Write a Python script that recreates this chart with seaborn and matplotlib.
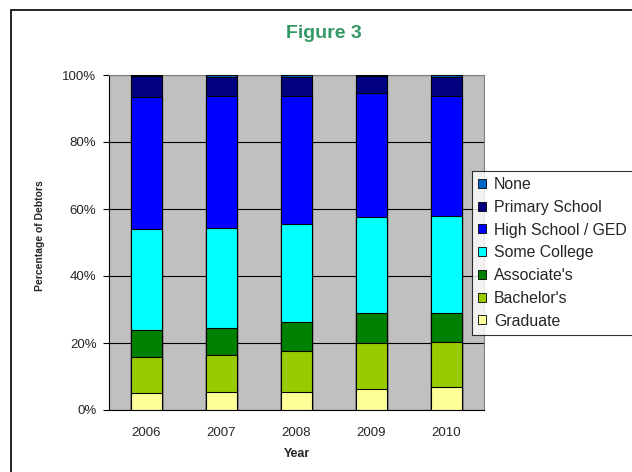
import matplotlib
matplotlib.use("Agg")
import matplotlib.pyplot as plt
import seaborn as sns
import numpy as np
from matplotlib.patches import Patch, Rectangle

# Data (percent of debtors by education level)
years = ["2006", "2007", "2008", "2009", "2010"]
graduate = [5.0, 5.3, 5.3, 6.2, 6.8]
bachelors = [10.9, 11.2, 12.4, 13.7, 13.4]
associates = [8.0, 8.1, 8.5, 9.0, 8.7]
some_college = [30.0, 29.6, 29.3, 28.7, 29.0]
high_school = [39.6, 39.6, 38.3, 36.9, 35.9]
primary = [6.2, 5.5, 5.5, 5.2, 5.5]
none = [0.3, 0.7, 0.7, 0.3, 0.7]

levels = ["Graduate", "Bachelor's", "Associate's", "Some College",
          "High School / GED", "Primary School", "None"]
series = [graduate, bachelors, associates, some_college, high_school, primary, none]
colors = ["#FFFF99", "#99CC00", "#008000", "#00FFFF", "#0000FF", "#000080", "#0066CC"]

sns.set_theme(style="white")
plt.rcParams['font.family'] = ['Liberation Sans', 'DejaVu Sans']

fig = plt.figure(figsize=(6.32, 4.72), dpi=100)
fig.patches.append(Rectangle((11 / 632, -0.1), 1.2, 1 - 10 / 472 + 0.1,
                             transform=fig.transFigure, fill=False,
                             edgecolor="black", linewidth=1.2))
ax = fig.add_axes([109 / 632, 62 / 472, 375 / 632, 335 / 472])
ax.set_facecolor("#C0C0C0")

# stacked bars: draw cumulative totals from the top layer down
cum = np.cumsum(np.array(series), axis=0)
for i in range(len(levels) - 1, -1, -1):
    sns.barplot(x=years, y=cum[i], color=colors[i], width=0.41,
                edgecolor="black", linewidth=0.8, saturation=1, ax=ax, zorder=3)

ax.set_ylim(0, 100)
ax.set_xlim(-0.5, 4.5)
ax.set_yticks([0, 20, 40, 60, 80, 100])
ax.set_yticklabels([f"{v}%" for v in [0, 20, 40, 60, 80, 100]], fontsize=9.5)
ax.yaxis.grid(True, color="black", linewidth=0.8, zorder=1)
ax.set_axisbelow(True)
ax.set_xticks(range(len(years)))
ax.set_xticklabels(years, fontsize=9.5)
ax.set_xticks(np.arange(-0.5, 5, 1), minor=True)
ax.tick_params(axis="x", which="major", length=0, pad=12)
ax.tick_params(axis="x", which="minor", length=5, width=0.8, color="black", direction="out")
ax.tick_params(axis="y", length=4, width=0.8, color="black", direction="out", left=True, pad=5)

for s in ["left", "bottom"]:
    ax.spines[s].set_color("black")
    ax.spines[s].set_linewidth(0.8)
for s in ["top", "right"]:
    ax.spines[s].set_color("#808080")
    ax.spines[s].set_linewidth(0.8)

ax.set_xlabel("Year", fontsize=9, fontweight="bold")
ax.xaxis.set_label_coords(0.5, -0.112)
ax.set_ylabel("Percentage of Debtors", fontsize=7.5, fontweight="bold")
ax.yaxis.set_label_coords(-0.17, 0.522)
fig.text(324 / 632, 1 - 34 / 472, "Figure 3", ha="center", va="center",
         fontsize=14, fontweight="bold", color="#339966")

handles = [Patch(facecolor=colors[i], edgecolor="black", linewidth=0.6, label=levels[i])
           for i in range(len(levels) - 1, -1, -1)]
leg = fig.legend(handles=handles, loc="upper left", bbox_to_anchor=(472 / 632, 1 - 171 / 472),
                 fontsize=11.4, frameon=True, fancybox=False, handlelength=0.5,
                 handleheight=0.5, handletextpad=0.5, labelspacing=0.49,
                 borderpad=0.38, borderaxespad=0)
leg.get_frame().set_edgecolor("black")
leg.get_frame().set_linewidth(0.8)

fig.savefig("out.png", dpi=100)
